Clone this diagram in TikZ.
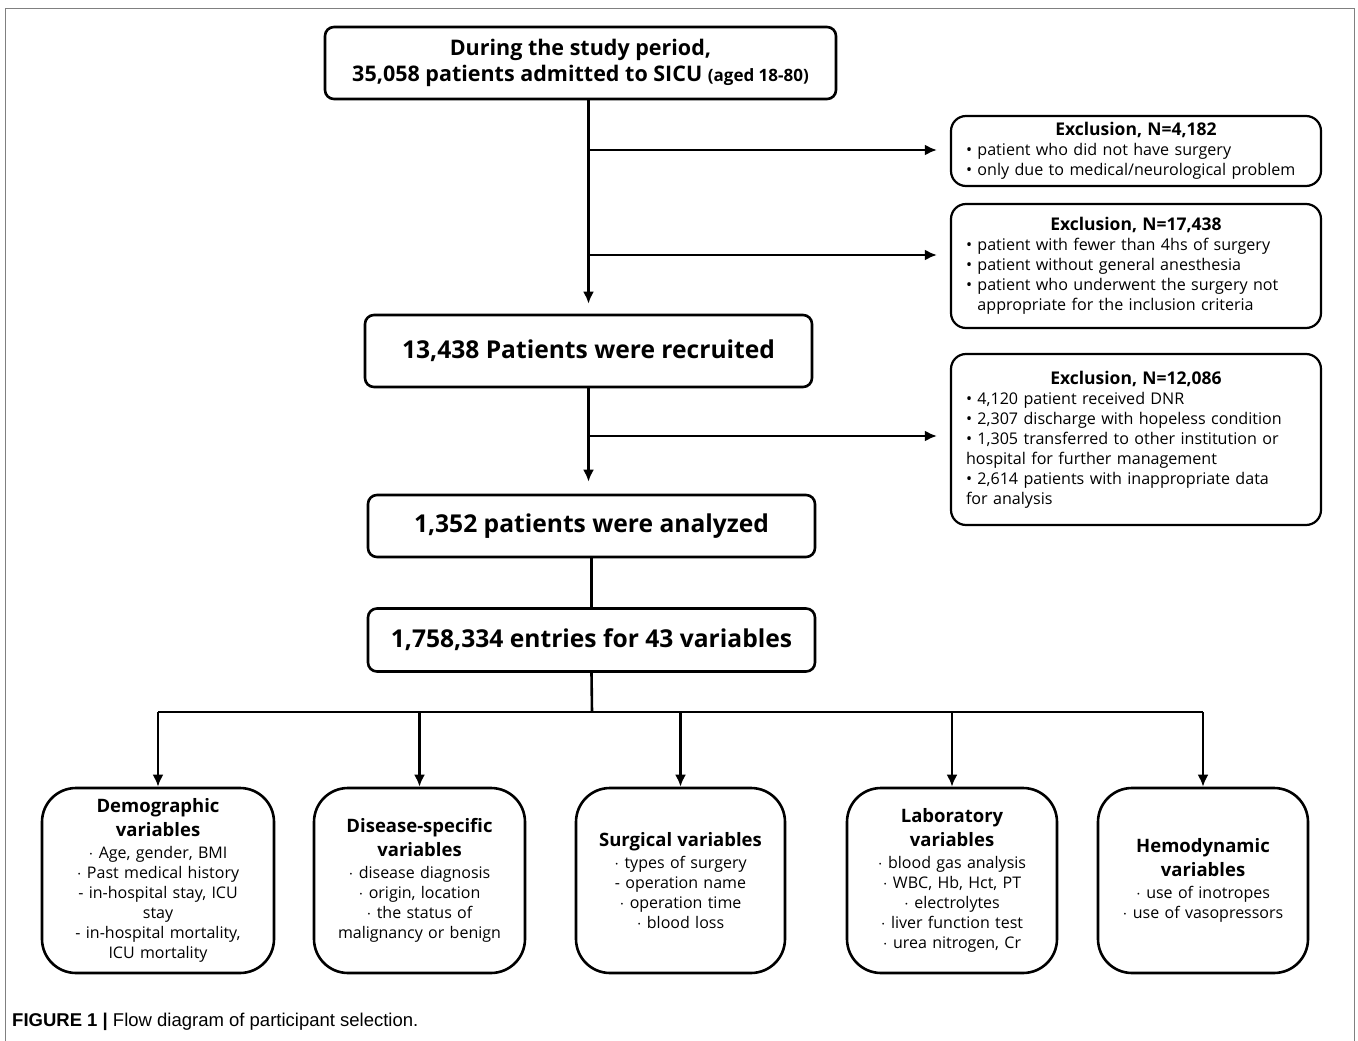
\documentclass[tikz,border=0pt]{standalone}
\usepackage{fontspec}
\setmainfont{Open Sans}
\newfontfamily\capfont{Liberation Sans}
\usetikzlibrary{arrows.meta}
\newcommand\vtitle{\bfseries\fontsize{18.5}{24}\selectfont}
\newcommand\xtitle{\bfseries\fontsize{17.5}{20}\selectfont}
\tikzset{
    mainbox/.style={draw, line width=2.6pt, rounded corners=9pt,
        align=center, inner sep=0pt},
    exclbox/.style={draw, line width=2.2pt, rounded corners=15pt,
        text width=340pt, inner xsep=15pt, inner ysep=0pt,
        align=left, font=\fontsize{16.1}{20}\selectfont},
    varbox/.style={draw, line width=2.6pt, rounded corners=34pt,
        text width=200pt, minimum height=185pt, inner xsep=5pt, inner ysep=0pt,
        align=center, font=\fontsize{16}{20}\selectfont},
    flow/.style={line width=2.6pt},
    arr/.style={flow, -{Latex[length=12pt,width=11pt]}}
}
\begin{document}
\begin{tikzpicture}[x=1pt, y=-1pt]
\useasboundingbox (0,0) rectangle (1358,1041);
% frame
\draw[gray, line width=1pt] (5,1041) -- (5,8.7) -- (1354,8.7) -- (1354,1041);

% main flow
\node[mainbox,
    minimum width=511pt,
    minimum height=72pt
] (study) at (580.5,63) {\bfseries\fontsize{21.5}{27}\selectfont During the study period,\\[4pt]
    \bfseries\fontsize{21.5}{27}\selectfont 35,058 patients admitted to SICU {\fontsize{17}{27}\selectfont(aged 18-80)}};
\node[mainbox,
    minimum width=447pt,
    minimum height=72pt,
    font=\bfseries\fontsize{24.6}{28}\selectfont
] (rec) at (588.5,351) {13,438 Patients were recruited};
\node[mainbox,
    minimum width=447pt,
    minimum height=62pt,
    font=\bfseries\fontsize{24.6}{28}\selectfont
] (ana) at (591.5,526) {1,352 patients were analyzed};
\node[mainbox,
    minimum width=447pt,
    minimum height=63pt,
    font=\bfseries\fontsize{24.6}{28}\selectfont
] (ent) at (591.5,640) {1,758,334 entries for 43 variables};

% exclusions
\node[exclbox, minimum height=70pt] (ex1) at (1136,151) {%
    {\centering\xtitle Exclusion, N=4,182\par}
    \textbullet{} patient who did not have surgery\\
    \textbullet{} only due to medical/neurological problem};
\node[exclbox, minimum height=124pt] (ex2) at (1136,266) {%
    {\centering\xtitle Exclusion, N=17,438\par}
    \textbullet{} patient with fewer than 4hs of surgery\\
    \textbullet{} patient without general anesthesia\\
    \textbullet{} patient who underwent the surgery not\\
    \phantom{\textbullet{} }appropriate for the inclusion criteria};
\node[exclbox, minimum height=171pt] (ex3) at (1136,439.5) {%
    {\centering\xtitle Exclusion, N=12,086\par}
    \textbullet{} 4,120 patient received DNR\\
    \textbullet{} 2,307 discharge with hopeless condition\\
    \textbullet{} 1,305 transferred to other institution or\\
    hospital for further management\\
    \textbullet{} 2,614 patients with inappropriate data\\
    for analysis};

\coordinate (s1) at (589,150);
\coordinate (s2) at (589,255);
\coordinate (s3) at (589,436);
\draw[arr, shorten >=10pt] (study.south -| rec.north) -- (rec.north);
\draw[arr, shorten >=12pt] (rec.south) -- (rec.south |- ana.north);
\draw[flow] (ana.south) -- (ent.north);
\draw[arr, shorten >=13pt] (s1) -- (s1 -| ex1.west);
\draw[arr, shorten >=13pt] (s2) -- (s2 -| ex2.west);
\draw[arr, shorten >=13pt] (s3) -- (s3 -| ex3.west);

% variable groups
\node[varbox, text width=222pt] (demo) at (158,880.5) {%
    {\vtitle Demographic\\ variables\par}\vspace{2pt}
    $\cdot$ Age, gender, BMI\\
    $\cdot$ Past medical history\\
    - in-hospital stay, ICU\\ stay\\
    - in-hospital mortality,\\ ICU mortality};
\node[varbox, text width=201pt] (dis) at (419.5,880.5) {%
    {\vtitle Disease-specific\\ variables\par}\vspace{2pt}
    $\cdot$ disease diagnosis\\
    $\cdot$ origin, location\\
    $\cdot$ the status of\\ malignancy or benign};
\node[varbox, text width=199pt] (surg) at (680.5,880.5) {%
    {\vtitle Surgical variables\par}\vspace{2pt}
    $\cdot$ types of surgery\\
    - operation name\\
    $\cdot$ operation time\\
    $\cdot$ blood loss};
\node[varbox] (lab) at (952,880.5) {%
    {\vtitle Laboratory\\ variables\par}\vspace{2pt}
    $\cdot$ blood gas analysis\\
    $\cdot$ WBC, Hb, Hct, PT\\
    $\cdot$ electrolytes\\
    $\cdot$ liver function test\\
    $\cdot$ urea nitrogen, Cr};
\node[varbox] (hemo) at (1203,880.5) {%
    {\vtitle Hemodynamic\\ variables\par}\vspace{2pt}
    $\cdot$ use of inotropes\\
    $\cdot$ use of vasopressors};

\coordinate (bar) at (592,712);
\draw[flow] (ent.south) -- (bar);
\draw[flow] (bar -| demo) -- (bar -| hemo);
\foreach \v in {demo, dis, surg, lab, hemo}{
    \draw[arr] (bar -| \v) -- (\v.north);
}

% caption
\node[anchor=west, inner sep=0pt, font=\capfont\fontsize{18.5}{20}\selectfont] (cap) at (12,1022)
    {\textbf{FIGURE 1 |} Flow diagram of participant selection.};
\end{tikzpicture}
\end{document}
